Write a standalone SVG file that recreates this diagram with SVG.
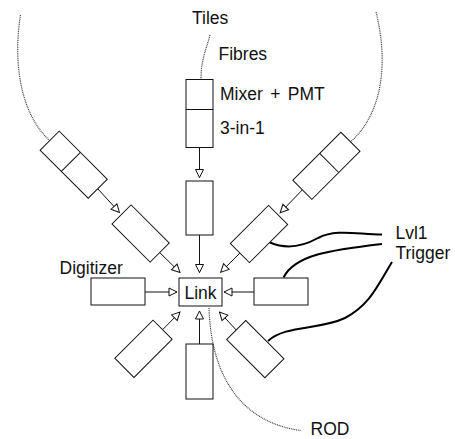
<svg xmlns="http://www.w3.org/2000/svg" width="455" height="439" viewBox="0 0 455 439">
<style>
  .box { fill: #fff; stroke: #111; stroke-width: 1; }
  .div { stroke: #111; stroke-width: 1; }
  .arrow { stroke: #111; stroke-width: 1; fill: none; marker-end: url(#tri); }
  .dots { fill: none; stroke: #444; stroke-width: 1.2; stroke-dasharray: 1 0.8; }
  .wire { fill: none; stroke: #000; stroke-width: 2; }
  text { font-family: "Liberation Sans", Arial, Helvetica, sans-serif; font-size: 17.5px; fill: #111; }
</style>
<defs>
  <marker id="tri" markerUnits="userSpaceOnUse" viewBox="0 0 10 10" refX="9" refY="5" markerWidth="10" markerHeight="10" orient="auto">
    <path d="M1,1 L9,5 L1,9 Z" fill="#fff" stroke="#111" stroke-width="1"/>
  </marker>
</defs>
<rect width="455" height="439" fill="#fff"/>

<g id="connectors">
  <path class="dots" d="M210,35 C206,50 201,60 201,79.5"/>
  <path class="dots" d="M20.5,15 C13,62 20,113 49.5,140.5"/>
  <path class="dots" d="M376,12 C388,60 384,112 350.5,142"/>
  <path class="dots" d="M209,308 C211,375 240,422 300.5,430.5"/>
  <line class="arrow" x1="199.5" y1="147.5" x2="199.5" y2="177.5"/>
  <line class="arrow" x1="199.5" y1="235" x2="199.5" y2="272.5"/>
  <line class="arrow" x1="199.5" y1="344" x2="199.5" y2="311"/>
  <line class="arrow" x1="145" y1="292" x2="177" y2="292"/>
  <line class="arrow" x1="254" y1="292" x2="224" y2="292"/>
  <line class="arrow" x1="97.7" y1="188.7" x2="119.4" y2="212.4"/>
  <line class="arrow" x1="159.7" y1="252.6" x2="180" y2="272.5"/>
  <line class="arrow" x1="302.4" y1="189.8" x2="280.2" y2="212.8"/>
  <line class="arrow" x1="239.9" y1="253.1" x2="220.7" y2="272.2"/>
  <line class="arrow" x1="162.6" y1="329.7" x2="180" y2="312"/>
  <line class="arrow" x1="236.2" y1="330" x2="219.5" y2="312"/>
  <path class="wire" d="M270,242.5 C285,249 300,248 318,238 C336,229 355,234 382,234.5"/>
  <path class="wire" d="M283.5,277.5 C295,255 330,250 382,244"/>
  <path class="wire" d="M268,341 C285,325 320,330 345,318 C370,305 378,285 392,262"/>
</g>

<g id="pmt-top">
  <rect class="box" x="186" y="79.5" width="27" height="68"/>
  <line class="div" x1="186" y1="109.5" x2="213" y2="109.5"/>
</g>
<g id="digi-top"><rect class="box" x="186" y="181" width="27" height="54"/></g>
<g id="digi-bottom"><rect class="box" x="186" y="344" width="27" height="55"/></g>
<g id="digitizer"><rect class="box" x="91" y="278" width="54" height="27"/></g>
<g id="digi-right"><rect class="box" x="254" y="278" width="54" height="27"/></g>
<g id="link">
  <rect class="box" x="179" y="278" width="43" height="28"/>
  <text x="200.5" y="298.5" text-anchor="middle">Link</text>
</g>
<g id="pmt-ul" transform="translate(73.7,164.7) rotate(-45)">
  <rect class="box" x="-13.5" y="-34" width="27" height="68"/>
  <line class="div" x1="-13.5" y1="-4" x2="13.5" y2="-4"/>
</g>
<g id="pmt-ur" transform="translate(326.4,165.8) rotate(45)">
  <rect class="box" x="-13.5" y="-34" width="27" height="68"/>
  <line class="div" x1="-13.5" y1="-4" x2="13.5" y2="-4"/>
</g>
<g id="digi-ul" transform="translate(140.6,233.5) rotate(-45)"><rect class="box" x="-13.5" y="-27" width="27" height="54"/></g>
<g id="digi-ur" transform="translate(259,234) rotate(45)"><rect class="box" x="-13.5" y="-27" width="27" height="54"/></g>
<g id="digi-ll" transform="translate(143.5,348.8) rotate(45)"><rect class="box" x="-13.5" y="-27" width="27" height="54"/></g>
<g id="digi-lr" transform="translate(255.3,349.1) rotate(-45)"><rect class="box" x="-13.5" y="-27" width="27" height="54"/></g>

<g id="labels">
  <text x="192" y="24">Tiles</text>
  <text x="218.5" y="60">Fibres</text>
  <text x="220" y="99.5" word-spacing="2.5">Mixer + PMT</text>
  <text x="220" y="134">3-in-1</text>
  <text x="59.5" y="274">Digitizer</text>
  <text x="395.5" y="238.5">Lvl1</text>
  <text x="395.5" y="258.5">Trigger</text>
  <text x="310.5" y="435">ROD</text>
</g>
</svg>
